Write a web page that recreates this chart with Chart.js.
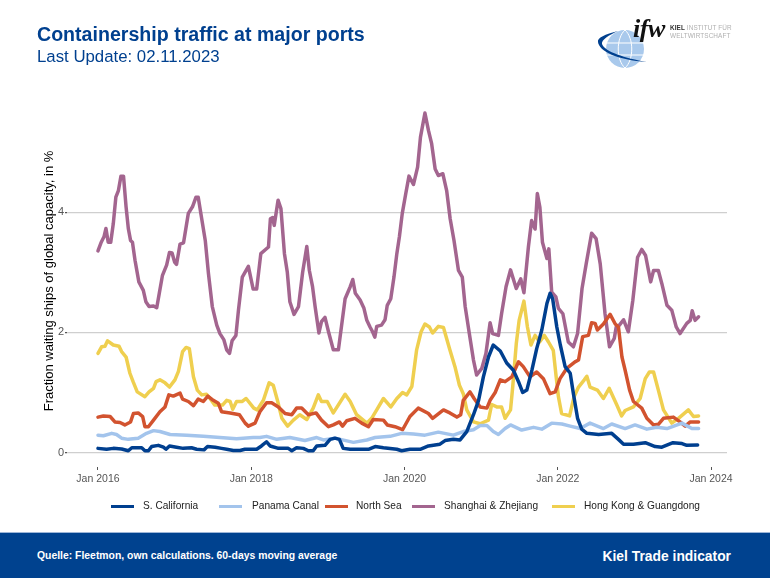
<!DOCTYPE html>
<html><head><meta charset="utf-8">
<style>
html,body{margin:0;padding:0;background:#fff;width:770px;height:578px;overflow:hidden;font-family:"Liberation Sans",Arial,sans-serif}
#wrap{position:relative;width:770px;height:578px}
canvas{position:absolute;left:0;top:0}
.t{position:absolute;white-space:nowrap}
#title{left:37px;top:23px;font-size:19.6px;font-weight:bold;color:#00408F}
#sub{left:37px;top:47px;font-size:16.8px;color:#00408F}
#band{position:absolute;left:0;top:532px;width:770px;height:46px;background:#00428F;border-top:1px solid #9db6d8;box-sizing:border-box}
#src{left:37px;top:550px;font-size:10.4px;font-weight:bold;color:#fff}
#kti{right:39px;top:548px;font-size:13.85px;font-weight:bold;color:#fff}
.lg{position:absolute;top:505px;width:23px;height:3px}
.lt{position:absolute;top:500px;font-size:10.15px;color:#222;white-space:nowrap}
#ifw{left:633px;top:14px;font:italic bold 26px "Liberation Serif",serif;color:#111;letter-spacing:-.5px}
.lo{font-size:6.4px;color:#b0b0b0;letter-spacing:.1px}
.lo b{color:#333}
</style></head>
<body><div id="wrap">
<canvas id="c" width="770" height="578"></canvas>
<div id="title" class="t">Containership traffic at major ports</div>
<div id="sub" class="t">Last Update: 02.11.2023</div>
<svg style="position:absolute;left:595px;top:20px" width="70" height="60" viewBox="0 0 70 60">
<circle cx="30" cy="29" r="19" fill="#a9c9ec"/>
<path d="M30 10 C21 18 21 40 30 48 M30 10 C39 18 39 40 30 48 M12 23 H48 M12 35 H48" fill="none" stroke="#fff" stroke-width="1"/>
<path d="M23 11 C10 14 2 18 3 22 C4 31 22 40 52 42 C30 38 10 32 7 24 C6 20 14 15 23 11 Z" fill="#00408F"/>
</svg>
<div id="ifw" class="t">ifw</div>
<div class="t lo" style="left:670px;top:24px"><b>KIEL</b> INSTITUT FÜR</div>
<div class="t lo" style="left:670px;top:32px">WELTWIRTSCHAFT</div>
<div id="band"></div>
<div id="src" class="t">Quelle: Fleetmon, own calculations. 60-days moving average</div>
<div id="kti" class="t">Kiel Trade indicator</div>
<div id="legend"></div>
</div>
<script src="https://cdn.jsdelivr.net/npm/chart.js@4/dist/chart.umd.min.js"></script>
<script>
const seriesNames = ["S. California","Panama Canal","North Sea","Shanghai & Zhejiang","Hong Kong & Guangdong"];
const seriesColors = ["#003F8F","#A3C4EC","#D2532F","#A3658F","#EFCF4F"];
const tickMonths = [0,24,48,72,96];
const tickLabels = ["Jan 2016","Jan 2018","Jan 2020","Jan 2022","Jan 2024"];
const yTicks = [0,2,4];

// x = months since Jan 2016
const californiaMonths = [0,1.35,2.4,3.7,4.75,5.3,6.85,7.35,7.9,8.4,9.45,10.25,10.65,11.2,12.3,13.35,14.65,15.45,16.6,17.15,18.35,19.35,20.15,21.2,22.25,23,24.05,24.85,25.6,26.4,26.95,28.25,29.8,30.35,31.1,32.15,32.95,33.7,34.25,35.55,36.35,37.1,37.8,38.4,39.5,42.35,43.4,44.7,46.8,47.55,48.85,50.45,51.75,53.55,54.35,55.65,56.7,57.75,58.8,59.6,60.35,61.15,61.9,63,64,65.05,65.85,66.5,67.15,67.95,68.7,69.5,70.3,70.8,71.2,71.85,72.4,73.15,73.95,74.45,75.1,75.75,76.55,78.4,80.45,81.5,82.3,83.85,85.7,87.25,88.3,90.05,91.45,92.2,93.9];
const californiaValues = [.07,.055,.07,.06,.03,.08,.08,.03,.03,.1,.12,.09,.055,.11,.09,.07,.08,.055,.045,.1,.09,.07,.055,.035,.035,.055,.055,.055,.11,.18,.11,.07,.07,.03,.08,.07,.03,.03,.11,.12,.22,.24,.22,.07,.055,.055,.1,.08,.055,.03,.055,.055,.11,.14,.2,.22,.21,.35,.63,.87,1.26,1.59,1.79,1.69,1.49,1.37,1.18,1.0,1.04,1.37,1.73,2.04,2.48,2.65,2.56,2.09,1.79,1.43,1.32,.98,.57,.39,.32,.3,.32,.22,.14,.14,.165,.1,.09,.165,.15,.12,.125];

const panamaMonths = [0,.85,2.15,2.9,3.7,4.75,6.3,7.6,8.7,9.7,11.3,13.9,16.5,19.1,21.7,24.3,25.35,26.4,28,30.05,32.4,34.25,35.3,37.1,40,42.1,43.4,45.75,47.55,49.4,51.2,53.3,55.65,57.2,58.8,59.85,60.9,61.9,62.7,63.75,64.6,66.35,68.2,69.5,71.05,72.65,73.95,75.5,77.05,79.15,80.45,82.55,84.1,85.95,87.5,89.1,91.45,93,94.05];
const panamaValues = [.29,.28,.32,.3,.24,.22,.24,.32,.365,.35,.3,.29,.27,.25,.23,.25,.25,.27,.22,.25,.2,.25,.21,.24,.17,.21,.25,.27,.32,.31,.29,.34,.29,.35,.38,.45,.45,.35,.3,.4,.46,.375,.42,.39,.49,.475,.44,.4,.49,.4,.475,.4,.46,.39,.42,.4,.49,.4,.4];

const northSeaMonths = [0,.85,1.9,2.65,3.45,4.2,5.1,5.55,6.3,7,7.35,7.9,8.7,9.7,10.5,11.1,11.8,12.85,13.25,14.15,14.95,15.7,16.5,17.2,18.05,18.85,19.35,20.7,22.15,23.05,23.55,24.6,25.35,26.4,27.2,28.25,29.3,30.35,31.1,31.9,32.95,34.15,35,36.1,36.85,37.8,38.3,38.95,40.25,41.3,42.35,43.1,44.7,45.3,46.5,47.7,48.85,50.15,51.75,52.4,54.1,55.1,56.2,56.8,57.2,58.25,58.9,59.85,60.9,61.4,62.2,63,63.75,64.8,65.85,66.6,67.65,68.7,69.75,70.8,71.6,72.35,73.4,74.7,75.25,75.9,76.8,77.3,77.85,78.2,79.15,80.2,81,81.5,82.05,82.55,83.25,83.85,85.15,85.95,87,87.75,88.55,90.1,91.15,91.95,92.75,94.05];
const northSeaValues = [.59,.61,.6,.51,.5,.46,.51,.65,.66,.6,.43,.43,.54,.68,.76,.96,.94,.99,.89,.85,.78,.89,.85,.94,.87,.82,.68,.66,.63,.49,.44,.49,.68,.83,.83,.76,.65,.63,.74,.74,.63,.66,.54,.43,.46,.51,.44,.53,.57,.49,.43,.55,.54,.46,.43,.38,.6,.74,.65,.57,.71,.66,.59,.63,.87,1.01,.9,.76,.74,.87,1.0,1.21,1.18,1.26,1.51,1.43,1.26,1.34,1.23,.98,1.01,1.23,1.4,1.51,1.54,1.93,1.95,2.16,2.15,2.04,2.14,2.3,2.14,2.09,1.59,1.37,1.04,.85,.74,.57,.46,.47,.57,.59,.51,.44,.51,.51];

const shanghaiMonths = [0,.47,.94,1.25,1.6,2,2.4,2.8,3.2,3.6,4,4.4,4.75,5.1,5.4,5.8,6.4,7.1,7.5,8,8.7,9.2,9.6,10.1,10.75,11.2,11.6,12,12.3,12.85,13.4,14.15,14.8,15.35,15.7,16.2,16.8,17.3,17.9,18.6,19.1,19.7,20.15,20.6,21,21.6,22,22.6,23.55,24.3,24.85,25.5,26.7,27,27.35,27.6,28.2,28.65,29.2,29.65,30.05,30.7,31.4,32.05,32.7,33.1,33.6,34,34.6,35,35.55,36.1,36.85,37.65,38.7,39.5,39.9,40.3,41.05,41.65,42.1,42.6,43,43.35,43.65,44.4,44.95,45.3,45.85,46.35,46.8,47.2,47.65,48.2,48.7,49.4,50.05,50.5,51.2,51.75,52.25,52.8,53.3,54,54.6,55.15,55.75,56.45,57.05,57.5,58.15,58.8,59.3,60.1,60.75,61.4,61.8,62.7,63.2,63.9,64.6,65.5,66.2,66.7,67.4,67.9,68.45,68.8,69.2,69.6,70.3,70.6,71.05,71.7,72.1,72.8,73.65,74.45,75.1,75.8,76.45,77.3,78,78.65,79.4,80.1,80.85,81.15,81.65,82.3,83.05,83.75,84.5,85.15,85.75,86.55,87,87.75,88.3,89.1,89.85,90.55,91.15,92.2,92.75,93.05,93.5,94.05];
const shanghaiValues = [3.355,3.49,3.59,3.73,3.5,3.5,3.81,4.25,4.36,4.6,4.6,4.09,3.73,3.53,3.5,3.2,2.84,2.7,2.51,2.43,2.44,2.41,2.65,2.95,3.12,3.33,3.32,3.17,3.13,3.47,3.49,3.98,4.09,4.25,4.25,3.92,3.53,2.98,2.43,2.12,1.98,1.88,1.71,1.65,1.86,1.95,2.37,2.92,3.1,2.72,2.72,3.31,3.42,3.89,3.91,3.78,4.2,4.06,3.31,3.0,2.51,2.3,2.43,3.0,3.43,3.03,2.76,2.43,1.99,2.18,2.25,2.01,1.71,1.71,2.56,2.76,2.88,2.65,2.54,2.4,2.2,2.09,2.01,1.92,2.1,2.12,2.21,2.45,2.56,2.92,3.31,3.59,3.98,4.31,4.6,4.46,4.75,5.25,5.65,5.36,5.14,4.72,4.61,4.64,4.36,3.89,3.53,3.03,2.92,2.43,1.98,1.54,1.29,1.4,1.65,2.16,1.98,1.95,2.31,2.76,3.04,2.73,2.89,2.66,3.42,3.86,3.72,4.31,4.08,3.5,3.23,3.39,2.67,2.59,2.4,2.31,1.84,1.76,1.98,2.73,3.14,3.65,3.56,3.14,2.31,1.76,1.9,2.09,2.12,2.21,2.01,2.53,3.25,3.38,3.28,2.84,3.03,3.03,2.81,2.45,2.37,2.09,1.98,2.15,2.2,2.36,2.2,2.26];

const hongKongMonths = [0,.57,1.1,1.5,2.4,3.3,3.7,4.4,5,5.5,6.15,7.35,8,8.7,9.1,9.7,10.5,11.2,12.05,12.6,13.25,13.8,14.3,14.95,15.55,16.25,17,17.55,18.3,19.5,20.15,20.7,21.1,21.7,22.6,23.2,24.4,24.95,25.9,26.8,27.45,28.1,28.8,29.7,30.6,31.6,32.7,33.7,34.5,35,35.9,36.85,38.7,39.5,40.5,42.1,42.85,43.65,44.7,45.85,46.8,47.7,48.35,49.15,49.9,50.6,51.2,51.9,52.4,53.3,54.1,55.1,55.9,56.6,57.2,57.75,58.8,59.85,61.15,61.65,62.45,63.2,63.75,64.6,64.95,65.5,65.95,66.7,67.25,67.8,68.45,69.15,69.9,70.55,71.3,71.75,72.1,72.6,73.85,74.55,75.25,76.15,76.55,77.05,78.2,79.15,80.05,81.25,82,82.55,83.85,84.9,85.7,86.35,87,87.75,88.55,89.85,90.9,92.45,93.25,94.05];
const hongKongValues = [1.65,1.76,1.77,1.86,1.79,1.77,1.68,1.59,1.32,1.18,1.01,.93,1.01,1.07,1.18,1.21,1.16,1.09,1.21,1.35,1.68,1.75,1.73,1.26,1.04,.96,.97,.9,.79,.79,.87,.85,.72,.85,.85,.9,.74,.71,.87,1.16,1.12,.87,.57,.44,.54,.63,.55,.74,.96,.85,.85,.66,.97,.85,.63,.49,.57,.71,.9,.76,.9,1.0,.96,1.1,1.71,2.01,2.14,2.09,1.99,2.1,2.08,1.71,1.43,1.12,.98,.71,.51,.48,.54,.8,.76,.76,.57,.71,1.1,1.81,2.2,2.52,2.09,1.79,1.95,1.84,1.95,1.84,1.7,1.26,.93,.65,.61,.93,1.09,1.21,1.27,1.09,1.04,.9,1.07,.79,.61,.7,.76,.9,1.23,1.34,1.34,1.04,.71,.49,.57,.71,.6,.61];

const pairs = (xs, ys) => xs.map((x, i) => ({x, y: ys[i]}));
const seriesData = [
  pairs(californiaMonths, californiaValues),
  pairs(panamaMonths, panamaValues),
  pairs(northSeaMonths, northSeaValues),
  pairs(shanghaiMonths, shanghaiValues),
  pairs(hongKongMonths, hongKongValues)
];

new Chart(document.getElementById('c'), {
  type: 'line',
  data: { datasets: seriesNames.map((label, i) => ({
    label, data: seriesData[i], borderColor: seriesColors[i], backgroundColor: seriesColors[i],
    borderWidth: 3.5, pointRadius: 0, tension: 0, borderJoinStyle: 'round', borderCapStyle: 'round', fill: false
  }))},
  options: {
    responsive: false, animation: false, events: [],
    layout: { padding: { top: 95, right: 43, left: 0, bottom: 0 } },
    plugins: { legend: { display: false }, title: { display: false }, tooltip: { enabled: false } },
    scales: {
      x: {
        type: 'linear', min: -4.85, max: 98.5,
        afterBuildTicks: s => { s.ticks = tickMonths.map(value => ({value})); },
        afterFit: s => { s.height = 111; },
        grid: { drawOnChartArea: false, drawTicks: true, tickLength: 3, tickColor: '#555', color: '#555' },
        border: { display: false },
        ticks: { autoSkip: false, maxRotation: 0, padding: 3, color: '#555', font: { family: '"Liberation Sans"', size: 10.5 },
          callback: v => tickLabels[tickMonths.indexOf(v)] }
      },
      y: {
        type: 'linear', min: -0.24, max: 5.95,
        afterBuildTicks: s => { s.ticks = yTicks.map(value => ({value})); },
        afterFit: s => { s.width = 67; },
        grid: { color: '#cfcfcf', lineWidth: 1.2, tickLength: 2, tickColor: '#555' },
        border: { display: false },
        ticks: { padding: 1, color: '#555', font: { family: '"Liberation Sans"', size: 11 } },
        title: { display: true, text: 'Fraction waiting ships of global capacity, in %', color: '#000',
          font: { family: '"Liberation Sans"', size: 13 }, padding: { top: 42, bottom: 0 } }
      }
    }
  }
});

const legendLineX = [111,219,325,412,552];
const legendTextX = [143,252,356,444,584];
const lg = document.getElementById('legend');
seriesNames.forEach((n, i) => {
  const a = document.createElement('div'); a.className = 'lg';
  a.style.left = legendLineX[i] + 'px'; a.style.background = seriesColors[i]; lg.appendChild(a);
  const b = document.createElement('div'); b.className = 'lt';
  b.style.left = legendTextX[i] + 'px'; b.textContent = n; lg.appendChild(b);
});
</script>
</body></html>
